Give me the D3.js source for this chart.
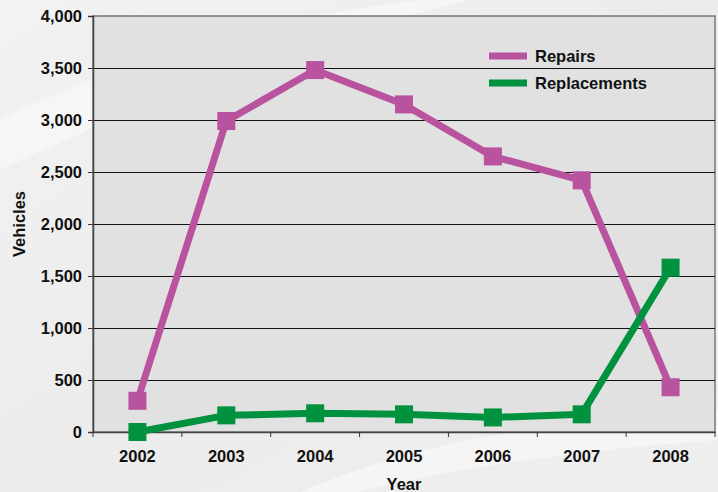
<!DOCTYPE html>
<html>
<head>
<meta charset="utf-8">
<script src="https://cdn.jsdelivr.net/npm/d3@7"></script>
<style>
  body { margin: 0; background: #eeeeee; }
  svg { display: block; }
</style>
</head>
<body>
<script>
// chart data
var years = ["2002", "2003", "2004", "2005", "2006", "2007", "2008"]
var repairs = [300, 2990, 3480, 3150, 2650, 2420, 430]
var replacements = [0, 160, 180, 170, 140, 170, 1580]
var yTicks = [0, 500, 1000, 1500, 2000, 2500, 3000, 3500, 4000]

var series = [
    {name: "Repairs", values: repairs, color: "#b9529f"},
    {name: "Replacements", values: replacements, color: "#00923f"}
]

var width = 718, height = 492
var margin = {top: 16, right: 3, bottom: 60, left: 93}
var fontFam = "'Liberation Sans', Arial, sans-serif"
var fs = 16.5

const svg = d3.select("body").append("svg")
    .attr("width", width)
    .attr("height", height)
    .attr("font-family", fontFam)
    .attr("font-weight", "bold")

// soft page background with a few light streaks
var grad = svg.append("defs").append("linearGradient")
    .attr("id", "bg").attr("x1", 0).attr("y1", 0).attr("x2", 1).attr("y2", 1)
grad.append("stop").attr("offset", "0%").attr("stop-color", "#f2f2f2")
grad.append("stop").attr("offset", "50%").attr("stop-color", "#ececec")
grad.append("stop").attr("offset", "100%").attr("stop-color", "#efefef")
svg.append("rect").attr("width", width).attr("height", height).attr("fill", "url(#bg)")
svg.append("path")
    .attr("d", "M0,120 C120,60 260,20 420,0 L470,0 C300,40 150,100 0,170 Z")
    .attr("fill", "#fafafa").attr("opacity", 0.6)
svg.append("path")
    .attr("d", "M300,492 C420,440 560,420 718,410 L718,440 C580,450 440,470 360,492 Z")
    .attr("fill", "#fafafa").attr("opacity", 0.6)

var x = d3.scaleBand()
    .domain(years)
    .range([margin.left, width - margin.right])
var y = d3.scaleLinear()
    .domain([0, 4000])
    .range([height - margin.bottom, margin.top])

// plot area
svg.append("rect")
    .attr("x", margin.left)
    .attr("y", margin.top)
    .attr("width", width - margin.right - margin.left)
    .attr("height", height - margin.bottom - margin.top)
    .attr("fill", "#e0e1e0")
    .attr("stroke", "#777")
    .attr("stroke-width", 1.5)

// gridlines
svg.append("g")
    .selectAll("line")
    .data(yTicks.filter(d => d > 0 && d < 4000))
    .join("line")
        .attr("x1", margin.left)
        .attr("x2", width - margin.right)
        .attr("y1", d => Math.round(y(d)) + 0.5)
        .attr("y2", d => Math.round(y(d)) + 0.5)
        .attr("stroke", "#111")
        .attr("stroke-width", 1)

// y axis
var yAxis = g => g
    .attr("transform", `translate(${margin.left},0)`)
    .call(d3.axisLeft(y).tickValues(yTicks).tickFormat(d3.format(",")).tickSize(5).tickPadding(6))
    .call(g => g.selectAll("line").attr("stroke", "#333"))
    .call(g => g.select(".domain").attr("stroke", "#444").attr("stroke-width", 1.5))
    .call(g => g.selectAll("text").attr("font-size", fs).attr("font-family", fontFam).attr("font-weight", "bold").attr("fill", "#111"))
svg.append("g").call(yAxis)

// x axis
var xAxis = g => g
    .attr("transform", `translate(0,${height - margin.bottom})`)
    .call(d3.axisBottom(x).tickSize(0).tickPadding(18))
    .call(g => g.select(".domain").attr("stroke", "#444").attr("stroke-width", 1.5))
    .call(g => g.selectAll("text").attr("font-size", fs).attr("font-family", fontFam).attr("font-weight", "bold").attr("fill", "#111"))
svg.append("g").call(xAxis)

// category boundary ticks
svg.append("g")
    .selectAll("line")
    .data(years.concat(["end"]))
    .join("line")
        .attr("x1", (d, i) => margin.left + i * x.step())
        .attr("x2", (d, i) => margin.left + i * x.step())
        .attr("y1", height - margin.bottom)
        .attr("y2", height - margin.bottom + 5)
        .attr("stroke", "#333")

// axis titles
svg.append("text")
    .attr("transform", `translate(25,${(margin.top + height - margin.bottom) / 2}) rotate(-90)`)
    .attr("text-anchor", "middle")
    .attr("font-size", fs)
    .attr("fill", "#111")
    .text("Vehicles")
svg.append("text")
    .attr("x", 404)
    .attr("y", 490)
    .attr("text-anchor", "middle")
    .attr("font-size", fs)
    .attr("fill", "#111")
    .text("Year")

// lines and markers
var line = d3.line()
    .x((d, i) => x(years[i]) + x.bandwidth() / 2)
    .y(d => y(d))

var groups = svg.append("g")
    .selectAll("g")
    .data(series)
    .join("g")

groups.append("path")
    .attr("d", d => line(d.values))
    .attr("fill", "none")
    .attr("stroke", d => d.color)
    .attr("stroke-width", 7)
    .attr("stroke-linejoin", "round")

var size = 18
groups.selectAll("rect")
    .data(d => d.values.map(v => ({v: v, color: d.color})))
    .join("rect")
        .attr("x", (d, i) => x(years[i]) + x.bandwidth() / 2 - size / 2)
        .attr("y", d => y(d.v) - size / 2)
        .attr("width", size)
        .attr("height", size)
        .attr("fill", d => d.color)

// legend
var legend = svg.append("g")
    .selectAll("g")
    .data(series)
    .join("g")
        .attr("transform", (d, i) => `translate(489,${56 + i * 27})`)
legend.append("line")
    .attr("x1", 0).attr("x2", 38)
    .attr("stroke", d => d.color)
    .attr("stroke-width", 7)
legend.append("text")
    .attr("x", 46)
    .attr("y", 6)
    .attr("font-size", fs)
    .attr("fill", "#111")
    .text(d => d.name)
</script>
</body>
</html>
